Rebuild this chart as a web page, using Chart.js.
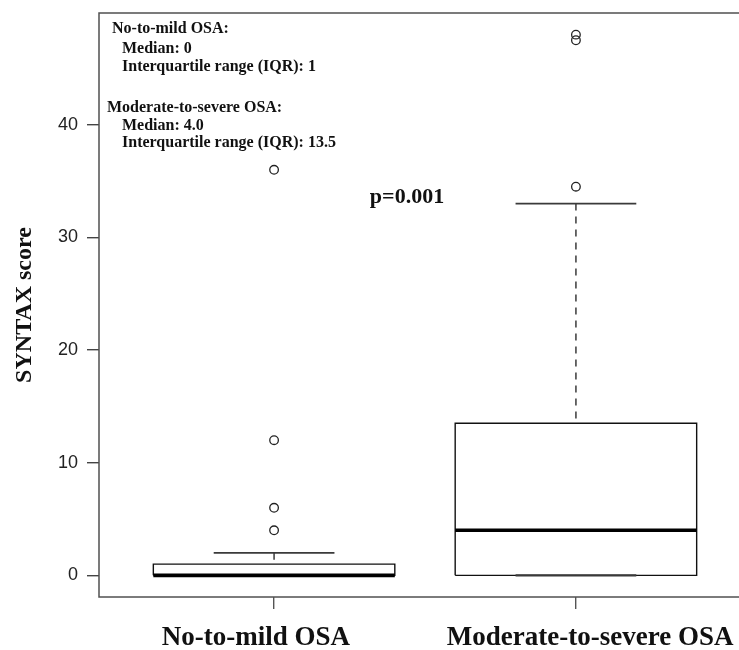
<!DOCTYPE html>
<html>
<head>
<meta charset="utf-8">
<script src="https://cdn.jsdelivr.net/npm/chart.js@4.4.1/dist/chart.umd.min.js"></script>
<style>
  html, body { margin: 0; padding: 0; background: #fff; overflow: hidden; }
  #wrap { width: 770px; height: 650px; position: relative; }
</style>
</head>
<body>
<div id="wrap"><canvas id="c" width="770" height="650"></canvas></div>
<script>
// ---------- data ----------
const categories = ['No-to-mild OSA', 'Moderate-to-severe OSA'];
const lowerWhiskers = [0, 0];
const q1Values = [0, 0];
const medianValues = [0, 4];
const q3Values = [1, 13.5];
const upperWhiskers = [2, 33];
const outlierValues = [[4, 6, 12, 36], [34.5, 47.5, 48]];
const yTickValues = [0, 10, 20, 30, 40];
const yAxisTitle = 'SYNTAX score';
const pValueText = 'p=0.001';
const summaryText = [
  'No-to-mild OSA:',
  'Median: 0',
  'Interquartile range (IQR): 1',
  'Moderate-to-severe OSA:',
  'Median: 4.0',
  'Interquartile range (IQR): 13.5'
];

// ---------- layout / style ----------
const HALF_BOX = 0.4, HALF_CAP = 0.2;
const LABEL_SHIFT = [-0.06, 0.047];
const summaryLayout = [[13, 20], [23, 39.5], [23, 58], [8, 98.5], [23, 116.5], [23, 134]];
const WHISK = '#3a3a3a';

const datasets = [];
categories.forEach((cat, i) => {
  const x = i + 1;
  datasets.push({
    label: cat + ' box', order: 3,
    data: [
      { x: x - HALF_BOX, y: q1Values[i] }, { x: x + HALF_BOX, y: q1Values[i] },
      { x: x + HALF_BOX, y: q3Values[i] }, { x: x - HALF_BOX, y: q3Values[i] },
      { x: x - HALF_BOX, y: q1Values[i] }
    ],
    showLine: true, borderColor: '#111', borderWidth: 1.4, pointRadius: 0, fill: false, tension: 0
  });
  datasets.push({
    label: cat + ' upper whisker', order: 2,
    data: [{ x: x, y: upperWhiskers[i] }, { x: x, y: q3Values[i] }],
    showLine: true, borderColor: WHISK, borderWidth: 1.5, borderDash: [7, 6], pointRadius: 0
  });
  datasets.push({
    label: cat + ' lower whisker', order: 2,
    data: [{ x: x, y: lowerWhiskers[i] }, { x: x, y: q1Values[i] }],
    showLine: true, borderColor: WHISK, borderWidth: 1.5, borderDash: [7, 6], pointRadius: 0
  });
  datasets.push({
    label: cat + ' upper cap', order: 2,
    data: [{ x: x - HALF_CAP, y: upperWhiskers[i] }, { x: x + HALF_CAP, y: upperWhiskers[i] }],
    showLine: true, borderColor: WHISK, borderWidth: 1.8, pointRadius: 0
  });
  datasets.push({
    label: cat + ' lower cap', order: 2,
    data: [{ x: x - HALF_CAP, y: lowerWhiskers[i] }, { x: x + HALF_CAP, y: lowerWhiskers[i] }],
    showLine: true, borderColor: WHISK, borderWidth: 2.2, pointRadius: 0
  });
  datasets.push({
    label: cat + ' median', order: 1,
    data: [{ x: x - HALF_BOX, y: medianValues[i] }, { x: x + HALF_BOX, y: medianValues[i] }],
    showLine: true, borderColor: '#000', borderWidth: 3.6, pointRadius: 0
  });
  datasets.push({
    label: cat + ' outliers', order: 0,
    data: outlierValues[i].map(v => ({ x: x, y: v })),
    showLine: false, pointStyle: 'circle', pointRadius: 4.3, pointBorderWidth: 1.3,
    pointBackgroundColor: 'rgba(0,0,0,0)', pointBorderColor: '#222'
  });
});

const decor = {
  id: 'decor',
  afterDatasetsDraw(chart) {
    const { ctx, chartArea: a } = chart;
    ctx.save();
    ctx.strokeStyle = '#505050';
    ctx.lineWidth = 1.5;
    ctx.strokeRect(a.left, a.top, a.right - a.left, a.bottom - a.top);
    ctx.fillStyle = '#111';
    ctx.textAlign = 'left';
    ctx.textBaseline = 'alphabetic';
    ctx.font = 'bold 16px "Liberation Serif"';
    summaryText.forEach((t, i) => {
      ctx.fillText(t, a.left + summaryLayout[i][0], a.top + summaryLayout[i][1]);
    });
    ctx.font = 'bold 22px "Liberation Serif"';
    ctx.textAlign = 'center';
    ctx.fillText(pValueText, a.left + 308, a.top + 190);
    ctx.restore();
  }
};

function noPad(s) { s.paddingTop = 0; s.paddingBottom = 0; s.paddingLeft = 0; s.paddingRight = 0; }

new Chart(document.getElementById('c'), {
  type: 'scatter',
  data: { datasets },
  plugins: [decor],
  options: {
    responsive: false,
    animation: false,
    events: [],
    layout: { padding: { top: 13, right: 19, left: 0, bottom: 0 } },
    plugins: { legend: { display: false }, tooltip: { enabled: false }, title: { display: false } },
    scales: {
      x: {
        type: 'linear', position: 'bottom', min: 0.42, max: 2.58, weight: 0,
        afterBuildTicks: s => { s.ticks = categories.map((c, i) => ({ value: i + 1 })); },
        afterFit: s => { s.height = 12; noPad(s); },
        ticks: { display: false },
        grid: { drawOnChartArea: false, drawTicks: true, tickLength: 12, color: '#555', lineWidth: 1.4 },
        border: { display: false }
      },
      x2: {
        type: 'linear', position: 'bottom', min: 0.42, max: 2.58, weight: 1,
        afterBuildTicks: s => { s.ticks = categories.map((c, i) => ({ value: i + 1 + LABEL_SHIFT[i] })); },
        afterFit: s => { s.height = 41; noPad(s); },
        ticks: {
          autoSkip: false, maxRotation: 0, minRotation: 0, padding: 13, color: '#111',
          font: { family: 'Liberation Serif', size: 27, weight: 'bold' },
          callback: (v, i) => categories[i]
        },
        grid: { display: false, drawTicks: false },
        border: { display: false }
      },
      y: {
        type: 'linear', position: 'left', min: -1.92, max: 49.92,
        afterBuildTicks: s => { s.ticks = yTickValues.map(v => ({ value: v })); },
        afterFit: s => { s.width = 99; noPad(s); },
        ticks: {
          padding: 9, color: '#222',
          font: { family: 'Liberation Sans', size: 18 },
          callback: v => String(v)
        },
        grid: { drawOnChartArea: false, drawTicks: true, tickLength: 12, color: '#444', lineWidth: 1.4 },
        border: { display: false },
        title: {
          display: true, text: yAxisTitle, color: '#111',
          font: { family: 'Liberation Serif', size: 24, weight: 'bold' },
          padding: { top: 10, bottom: 0 }
        }
      }
    }
  }
});
</script>
</body>
</html>
